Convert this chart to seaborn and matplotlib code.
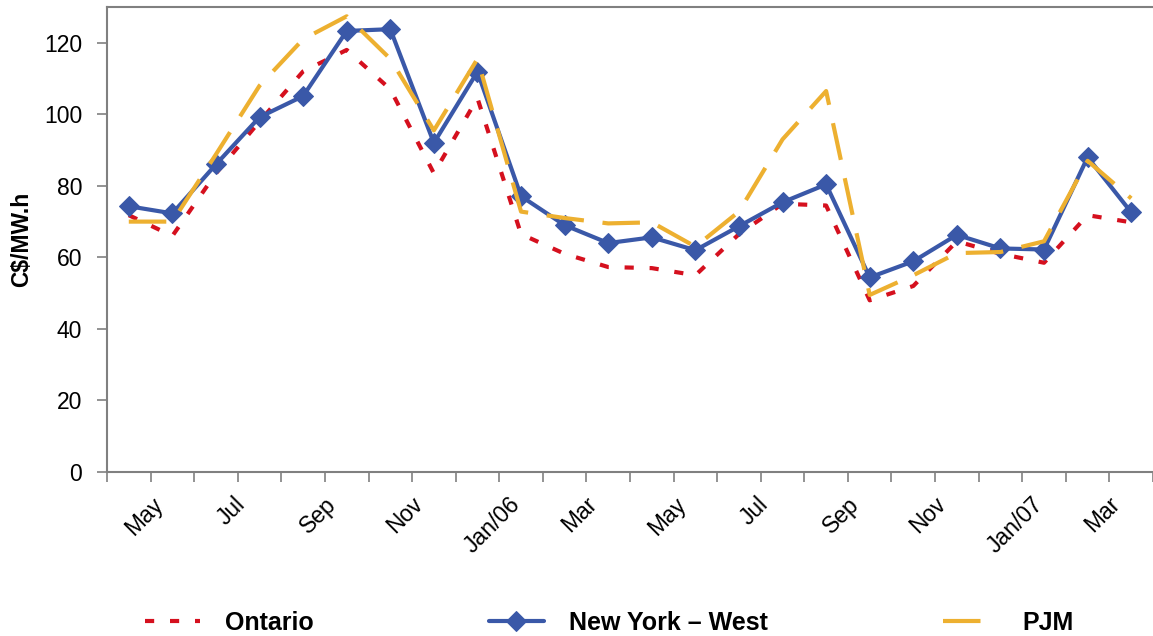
import numpy as np
import pandas as pd
import seaborn as sns
import matplotlib.pyplot as plt
from matplotlib.transforms import ScaledTranslation

months = ["May", "Jun", "Jul", "Aug", "Sep", "Oct", "Nov", "Dec",
          "Jan/06", "Feb", "Mar", "Apr", "May", "Jun", "Jul", "Aug",
          "Sep", "Oct", "Nov", "Dec", "Jan/07", "Feb", "Mar", "Apr"]

ontario = [71.8, 66.0, 83.5, 98.0, 112.0, 118.0, 107.0, 83.5,
           104.5, 66.5, 61.0, 57.3, 57.0, 55.0, 66.5, 75.0,
           74.5, 48.0, 52.0, 64.5, 61.0, 58.5, 71.8, 69.8]
ny_west = [74.3, 72.3, 86.0, 99.2, 105.1, 123.3, 123.8, 92.0,
           111.9, 77.1, 69.0, 64.0, 65.6, 62.0, 68.7, 75.4,
           80.4, 54.4, 58.9, 66.3, 62.5, 62.2, 88.0, 72.6]
pjm = [70.0, 70.0, 88.8, 108.0, 121.0, 127.4, 115.5, 95.5,
       115.5, 72.8, 71.0, 69.5, 69.8, 63.0, 72.8, 93.0,
       106.5, 49.5, 55.0, 61.2, 61.5, 64.5, 87.0, 76.5]

df = pd.DataFrame({"idx": np.arange(len(months)), "month": months,
                   "Ontario": ontario, "New York \u2013 West": ny_west, "PJM": pjm})

sns.set_theme(style="white")
plt.rcParams["font.family"] = ["Liberation Sans", "DejaVu Sans"]
plt.rcParams["text.color"] = "black"
plt.rcParams["xtick.labelcolor"] = "black"
plt.rcParams["ytick.labelcolor"] = "black"

fig = plt.figure(figsize=(11.53, 6.36), dpi=100)
ax = fig.add_axes([107 / 1153, 1 - 472 / 636, 1 - 107 / 1153, (472 - 7) / 636])

red = "#D5101E"
blue = "#3A58A8"
gold = "#EDB030"

sns.lineplot(data=df, x="idx", y="Ontario", ax=ax, color=red, lw=3.0,
             label="Ontario")
ax.lines[-1].set_dashes((2.2, 3.8))
sns.lineplot(data=df, x="idx", y="New York \u2013 West", ax=ax, color=blue, lw=3.0,
             marker="D", markersize=10.5, markeredgecolor=blue,
             label="New York \u2013 West")
sns.lineplot(data=df, x="idx", y="PJM", ax=ax, color=gold, lw=3.0,
             label="PJM")
ax.lines[-1].set_dashes((9, 4.5))

ax.set_ylim(0, 130)
ax.set_xlim(-0.5, 23.38)
ax.set_yticks(range(0, 121, 20))
ax.set_xticks(df["idx"][::2])
ax.set_xticklabels(df["month"][::2], rotation=45, ha="center", va="top")
ax.set_xticks(np.arange(-0.5, 24, 1), minor=True)
ax.tick_params(axis="x", which="major", length=0, pad=15, labelsize=16.5, labelcolor="black")
ax.tick_params(axis="x", which="minor", length=7, width=1.2, color="#808080", direction="out")
ax.tick_params(axis="y", length=7, width=1.2, color="#808080", direction="out", pad=11,
               labelsize=16.5, labelcolor="black")
ax.tick_params(bottom=True, left=True, which="both")
for lbl in ax.get_xticklabels():
    lbl.set_transform(lbl.get_transform() + ScaledTranslation(0.15, 0, fig.dpi_scale_trans))

ax.set_xlabel("")
ax.set_ylabel("C$/MW.h", fontsize=16.5, fontweight="bold", color="black")
ax.yaxis.set_label_coords(-0.071, 0.5)

for side in ["left", "bottom", "top"]:
    ax.spines[side].set_color("#808080")
    ax.spines[side].set_linewidth(1.5)
ax.spines["right"].set_visible(False)

handles, labels = ax.get_legend_handles_labels()
ax.get_legend().remove()
fig.legend(handles, labels, loc="center left", bbox_to_anchor=(145 / 1153, 1 - 623 / 636),
           ncol=3, frameon=False, prop={"weight": "bold", "size": 18},
           handlelength=2.2, handletextpad=1.0, columnspacing=7.0, borderpad=0,
           borderaxespad=0)

fig.savefig("out.png", dpi=100, facecolor="white")
